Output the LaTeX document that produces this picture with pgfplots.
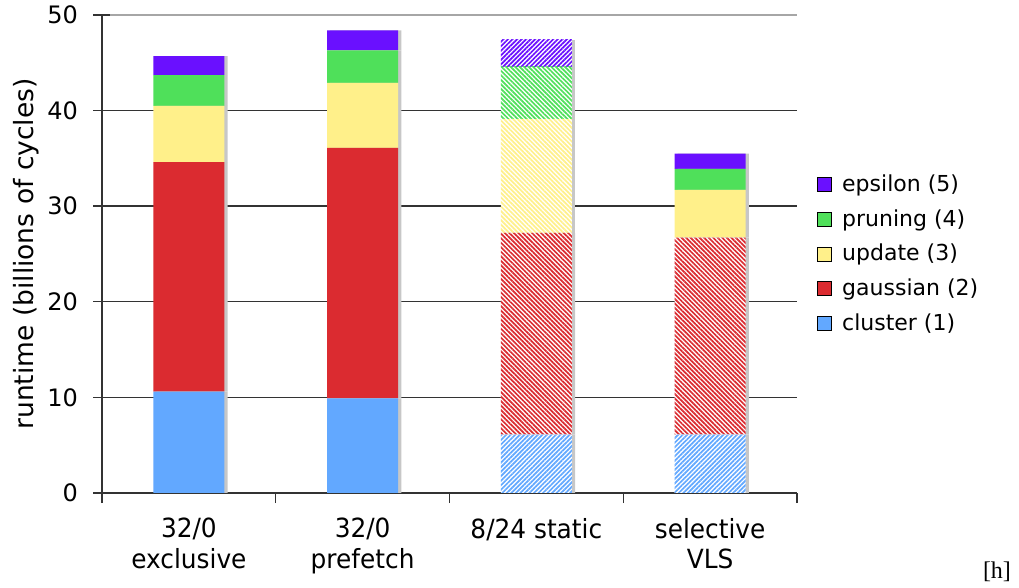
\documentclass[border=0pt]{standalone}
\usepackage{fontspec}
\setmainfont{DejaVu Sans}
\newfontfamily\narrowfont[FakeStretch=0.94]{DejaVu Sans}
\newfontfamily\serifh{Liberation Serif}
\usepackage{pgfplots}
\pgfplotsset{compat=1.18}
\usetikzlibrary{patterns.meta,shadows}
\definecolor{cblue}{RGB}{98,168,255}
\definecolor{cred}{RGB}{219,43,48}
\definecolor{cyellow}{RGB}{255,240,138}
\definecolor{cgreen}{RGB}{79,224,90}
\definecolor{cpurple}{RGB}{106,16,255}
\tikzset{
  barshadow/.style={drop shadow={shadow xshift=1.6pt, shadow yshift=0pt, fill=black!22, opacity=1}},
  solidbar/.style={fill=#1, draw=none, barshadow},
  hatchR/.style={fill=white, draw=none, barshadow, postaction={pattern={Lines[angle=-45,distance=1.6pt,line width=0.85pt]}, pattern color=#1}},
  hatchL/.style={fill=white, draw=none, barshadow, postaction={pattern={Lines[angle=45,distance=1.6pt,line width=0.85pt]}, pattern color=#1}},
}
\begin{document}
\begin{tikzpicture}
\useasboundingbox (-51pt,-47.5pt) rectangle (458.5pt,246.5pt);
\begin{axis}[
  name=ax, at={(0,0)}, anchor=south west,
  scale only axis, width=347.5pt, height=239pt,
  ybar stacked, bar width=0.41,
  xmin=-0.5, xmax=3.5, ymin=0, ymax=50,
  axis lines=left, axis line style={black!80, line width=0.7pt},
  x axis line style={-}, y axis line style={-},
  xtick={-0.5,0.5,1.5,2.5,3.5}, xticklabels={},
  extra x ticks={0,1,2,3},
  extra x tick labels={{32/0\\exclusive},{32/0\\prefetch},{8/24 static},{selective\\VLS}},
  extra x tick style={major tick length=0pt, tick label style={align=center, anchor=north, yshift=-9pt, font=\narrowfont\fontsize{13.2}{15.2}\selectfont}},
  ytick={0,10,20,30,40},
  extra y ticks={50},
  extra y tick style={grid style={black!35, line width=0.7pt}},
  ymajorgrids, grid style={black!80, line width=0.7pt},
  tick align=outside, major tick length=8.5pt,
  tick style={black!80, line width=0.7pt},
  ytick style={xshift=4.25pt},
  xtick style={yscale=0.59},
  /pgf/number format/assume math mode=true,
  yticklabel style={font=\fontsize{12}{14}\selectfont, xshift=0pt},
  ylabel={runtime (billions of cycles)},
  every axis y label/.style={at={(rel axis cs:0,0.5)}, xshift=-38pt, rotate=90, anchor=center, font=\fontsize{13.25}{15}\selectfont},
  legend style={at={(1,0.5)}, anchor=west, xshift=10pt, draw=none, fill=none, font=\fontsize{11}{13}\selectfont, row sep=3.5pt, inner sep=0pt},
  legend cell align=left,
  legend image code/.code={\fill[#1] (0pt,-3.5pt) rectangle (7pt,3.5pt); \path (10pt,0);},
]
% cluster solid
\addplot+[forget plot, solidbar=cblue] coordinates {(0,10.6) (1,9.9) (2,0) (3,0)};
% gaussian solid
\addplot+[forget plot, solidbar=cred] coordinates {(0,24.0) (1,26.2) (2,0) (3,0)};
% cluster hatched
\addplot+[forget plot, hatchL=cblue] coordinates {(0,0) (1,0) (2,6.1) (3,6.1)};
% gaussian hatched
\addplot+[forget plot, hatchR=cred] coordinates {(0,0) (1,0) (2,21.1) (3,20.6)};
% update solid
\addplot+[forget plot, solidbar=cyellow] coordinates {(0,5.9) (1,6.8) (2,0) (3,5.0)};
% pruning solid
\addplot+[forget plot, solidbar=cgreen] coordinates {(0,3.2) (1,3.4) (2,0) (3,2.2)};
% epsilon solid
\addplot+[forget plot, solidbar=cpurple] coordinates {(0,2.0) (1,2.1) (2,0) (3,1.6)};
% update hatched
\addplot+[forget plot, hatchR=cyellow] coordinates {(0,0) (1,0) (2,11.9) (3,0)};
% pruning hatched
\addplot+[forget plot, hatchR=cgreen] coordinates {(0,0) (1,0) (2,5.5) (3,0)};
% epsilon hatched
\addplot+[forget plot, hatchL=cpurple] coordinates {(0,0) (1,0) (2,2.8) (3,0)};
\addlegendimage{fill=cpurple}\addlegendentry{epsilon (5)}
\addlegendimage{fill=cgreen}\addlegendentry{pruning (4)}
\addlegendimage{fill=cyellow}\addlegendentry{update (3)}
\addlegendimage{fill=cred}\addlegendentry{gaussian (2)}
\addlegendimage{fill=cblue}\addlegendentry{cluster (1)}
\end{axis}
\node[font=\serifh\fontsize{12}{14}\selectfont] at ([xshift=100pt,yshift=-39.5pt]ax.south east) {[h]};
\end{tikzpicture}
\end{document}
